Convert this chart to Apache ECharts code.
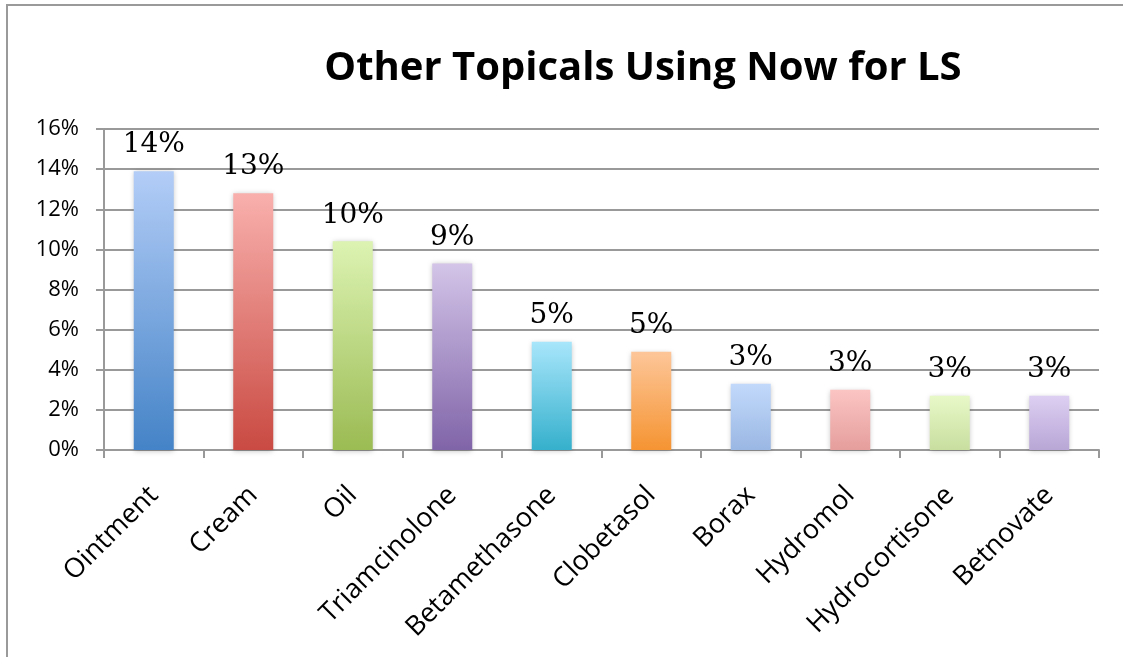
<!DOCTYPE html>
<html>
<head>
<meta charset="utf-8">
<script src="https://cdn.jsdelivr.net/npm/echarts@6/dist/echarts.min.js"></script>
<style>
    html, body { margin: 0; padding: 0; background: #fff; }
    #frame {
        position: absolute; left: 6px; top: 4px; width: 1117px; height: 653px;
        border-top: 2px solid #9a9a9a; border-left: 2px solid #9a9a9a;
    }
    #chart { position: absolute; left: 0; top: 0; width: 1123px; height: 657px; }
</style>
</head>
<body>
<div id="frame"></div>
<div id="chart"></div>
<script>
const categories = ['Ointment', 'Cream', 'Oil', 'Triamcinolone', 'Betamethasone',
    'Clobetasol', 'Borax', 'Hydromol', 'Hydrocortisone', 'Betnovate'];
const shares = [13.9, 12.8, 10.4, 9.3, 5.4, 4.9, 3.3, 3.0, 2.7, 2.7];
const yTicks = [0, 2, 4, 6, 8, 10, 12, 14, 16];
// gradient colours, top then bottom
const topColors = ['#b3cdf7', '#f9b0ad', '#dcf3b2', '#d3c4e8', '#a8e6fb',
    '#fdc699', '#c2d9fb', '#fbc5c3', '#e8f9c8', '#ddcff2'];
const bottomColors = ['#4483c7', '#c94a42', '#9bbb53', '#8064a8', '#35b0cc',
    '#f59432', '#9ab7e3', '#e59e9c', '#c8de9f', '#b8a6d6'];

const chart = echarts.init(document.getElementById('chart'));

const option = {
    animation: false,
    title: {
        text: 'Other Topicals Using Now for LS',
        left: 638,
        top: 44,
        textAlign: 'center',
        textStyle: {
            fontFamily: 'Open Sans',
            fontWeight: 'bold',
            fontSize: 40,
            color: '#000'
        }
    },
    grid: {
        left: 104,
        right: 24,
        top: 129,
        bottom: 207
    },
    xAxis: {
        type: 'category',
        data: categories,
        axisLine: { lineStyle: { color: '#999', width: 2 } },
        axisTick: { show: true, length: 8, lineStyle: { color: '#999', width: 2 } },
        axisLabel: {
            rotate: 45,
            margin: 41,
            fontFamily: 'Open Sans',
            fontSize: 27,
            color: '#000'
        }
    },
    yAxis: {
        type: 'value',
        min: yTicks[0],
        max: yTicks[yTicks.length - 1],
        interval: 2,
        axisLine: { show: true, lineStyle: { color: '#999', width: 2 } },
        axisTick: { show: true, length: 8, lineStyle: { color: '#999', width: 2 } },
        splitLine: { lineStyle: { color: '#999', width: 2 } },
        axisLabel: {
            formatter: '{value}%',
            margin: 25,
            fontFamily: 'Open Sans',
            fontSize: 22,
            color: '#000'
        }
    },
    series: [
        {
            type: 'bar',
            barWidth: 40,
            data: shares.map((v, i) => ({
                value: v,
                itemStyle: {
                    color: new echarts.graphic.LinearGradient(0, 0, 0, 1, [
                        { offset: 0, color: topColors[i] },
                        { offset: 1, color: bottomColors[i] }
                    ]),
                    shadowColor: 'rgba(0,0,0,0.25)',
                    shadowBlur: 5,
                    shadowOffsetY: 1
                }
            })),
            label: {
                show: true,
                position: 'top',
                distance: 12,
                formatter: p => Math.round(p.value) + '%',
                fontFamily: 'DejaVu Serif',
                fontSize: 28,
                color: '#000'
            }
        }
    ]
};

chart.setOption(option);
</script>
</body>
</html>
